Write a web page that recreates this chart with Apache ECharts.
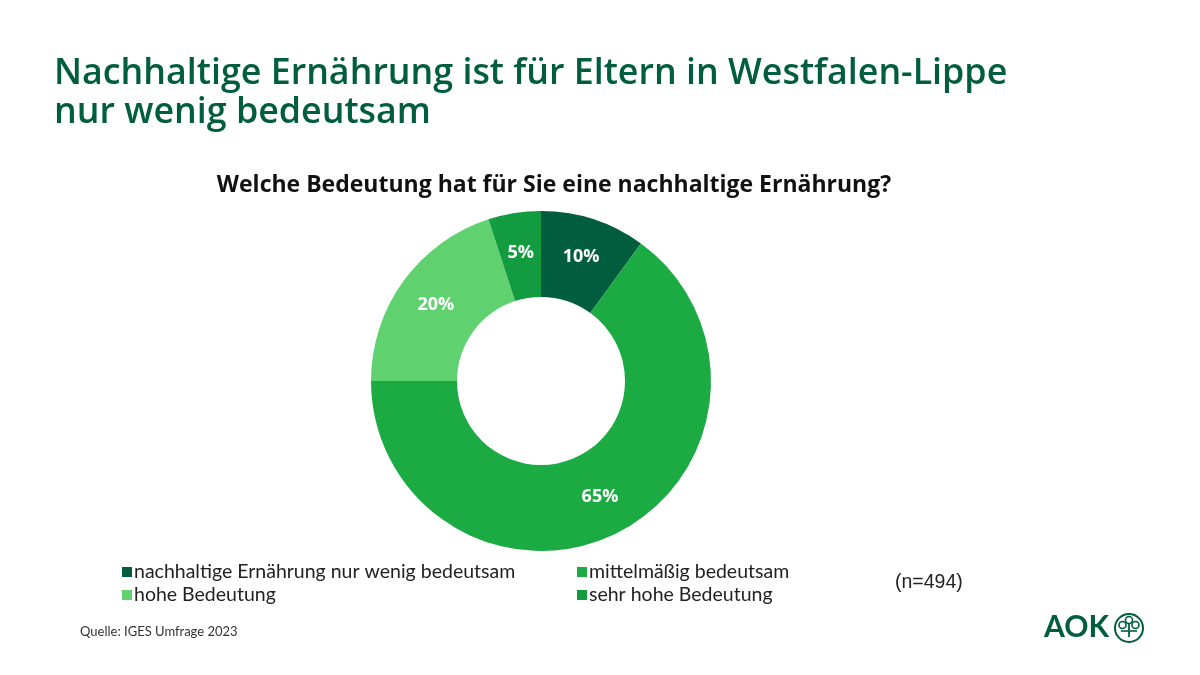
<!DOCTYPE html>
<html>
<head>
<meta charset="utf-8">
<script src="https://cdn.jsdelivr.net/npm/echarts@6/dist/echarts.min.js"></script>
<style>html,body{margin:0;padding:0;background:#fff;}#chart{width:1200px;height:675px;}</style>
</head>
<body>
<div id="chart"></div>
<script>
var categories = ['nachhaltige Ernährung nur wenig bedeutsam', 'mittelmäßig bedeutsam', 'hohe Bedeutung', 'sehr hohe Bedeutung'];
var values = [10, 65, 20, 5];
var colors = ['#005e3f', '#1cab43', '#5fd16f', '#139b3f'];

var chart = echarts.init(document.getElementById('chart'));
var FONT = '"Open Sans", Lato, sans-serif';
var LFONT = 'Lato, "Open Sans", sans-serif';
var data = categories.map(function (c, i) { return { name: c, value: values[i], itemStyle: { color: colors[i] } }; });

var legendCommon = {
  orient: 'vertical', itemWidth: 10, itemHeight: 10, itemGap: 3, icon: 'rect',
  textStyle: { fontFamily: LFONT, fontSize: 19.5, color: '#222', padding: [0, 0, 0, -3] },
  selectedMode: false
};

chart.setOption({
  animation: false,
  title: [
    { text: 'Nachhaltige Ernährung ist für Eltern in Westfalen-Lippe\nnur wenig bedeutsam', left: 49, top: 49,
      textStyle: { fontFamily: FONT, fontSize: 35.8, fontWeight: 600, color: '#005e3f', lineHeight: 39 } },
    { text: 'Welche Bedeutung hat für Sie eine nachhaltige Ernährung?', left: 549, top: 169, textAlign: 'center',
      textStyle: { fontFamily: FONT, fontSize: 23, fontWeight: 'bold', color: '#111' } }
  ],
  legend: [
    Object.assign({ left: 117, top: 557, data: [categories[0], categories[2]] }, legendCommon),
    Object.assign({ left: 572, top: 557, data: [categories[1], categories[3]] }, legendCommon)
  ],
  series: [{
    type: 'pie', center: [541, 381], radius: [84, 170], startAngle: 90, clockwise: true,
    label: { show: true, position: 'inside', formatter: '{c}%', fontFamily: FONT, fontSize: 18, fontWeight: 'bold', color: '#fff' },
    labelLine: { show: false },
    emphasis: { disabled: true },
    data: data
  }],
  graphic: [
    { type: 'text', left: 895, top: 573, style: { text: '(n=494)', font: '19.5px "Liberation Sans", Arial, sans-serif', fill: '#222' } },
    { type: 'text', left: 80, top: 625, style: { text: 'Quelle: IGES Umfrage 2023', font: '13px ' + LFONT, fill: '#333' } },
    { type: 'text', left: 1044, top: 612, style: { text: 'AOK', font: 'bold 30px ' + LFONT, fill: '#005e3f' } },
    { type: 'circle', shape: { cx: 1129, cy: 628, r: 14 }, style: { fill: 'none', stroke: '#005e3f', lineWidth: 2 } },
    { type: 'circle', shape: { cx: 1129, cy: 620, r: 3.5 }, style: { fill: 'none', stroke: '#005e3f', lineWidth: 1.6 } },
    { type: 'circle', shape: { cx: 1122.5, cy: 625, r: 3.5 }, style: { fill: 'none', stroke: '#005e3f', lineWidth: 1.6 } },
    { type: 'circle', shape: { cx: 1135.5, cy: 625, r: 3.5 }, style: { fill: 'none', stroke: '#005e3f', lineWidth: 1.6 } },
    { type: 'line', shape: { x1: 1129, y1: 624, x2: 1129, y2: 637 }, style: { stroke: '#005e3f', lineWidth: 1.8 } },
    { type: 'line', shape: { x1: 1121, y1: 631, x2: 1137, y2: 631 }, style: { stroke: '#005e3f', lineWidth: 1.6 } }
  ]
});
</script>
</body>
</html>
